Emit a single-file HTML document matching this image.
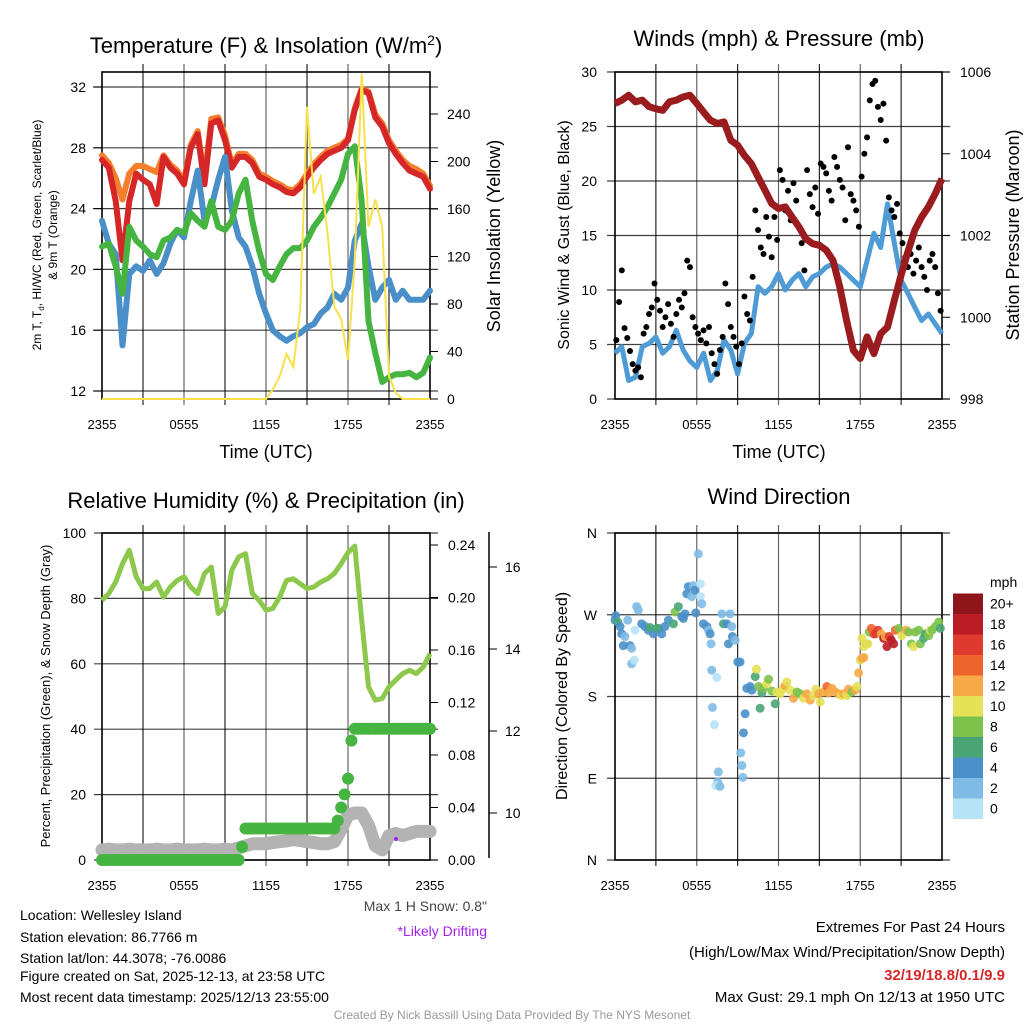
<!DOCTYPE html>
<html><head><meta charset="utf-8"><style>
html,body{margin:0;padding:0;background:#fff;}
svg{display:block;font-family:"Liberation Sans",Arial,sans-serif;}
</style></head><body>
<svg id="chart" width="1024" height="1024" viewBox="0 0 1024 1024" xmlns="http://www.w3.org/2000/svg">
<rect width="1024" height="1024" fill="#fff"/>
<g id="p1"></g>
<g id="p2"></g>
<g id="p3"></g>
<g id="p4"></g>
<g id="txt" font-size="14" fill="#000">
<text x="20" y="920">Location: Wellesley Island</text>
<text x="20" y="942">Station elevation: 86.7766 m</text>
<text x="20" y="963">Station lat/lon: 44.3078; -76.0086</text>
<text x="20" y="981">Figure created on Sat, 2025-12-13, at 23:58 UTC</text>
<text x="20" y="1002">Most recent data timestamp: 2025/12/13 23:55:00</text>
<text x="487" y="911" text-anchor="end" fill="#444">Max 1 H Snow: 0.8"</text>
<text x="487" y="936" text-anchor="end" fill="#a020f0">*Likely Drifting</text>
<text x="1005" y="932" text-anchor="end" font-size="15">Extremes For Past 24 Hours</text>
<text x="1005" y="957" text-anchor="end" font-size="15">(High/Low/Max Wind/Precipitation/Snow Depth)</text>
<text x="1005" y="980" text-anchor="end" font-size="15" font-weight="bold" fill="#d62728">32/19/18.8/0.1/9.9</text>
<text x="1005" y="1002" text-anchor="end" font-size="15">Max Gust: 29.1 mph On 12/13 at 1950 UTC</text>
<text x="512" y="1019" text-anchor="middle" font-size="12" fill="#999">Created By Nick Bassill Using Data Provided By The NYS Mesonet</text>
</g>
</svg>
<script>
// ---- data (half-hourly, hours 0..24 from 2355 UTC) ----
const xTicks=["2355","0555","1155","1755","2355"];
const tempTicks=[12,16,20,24,28,32];
const solarTicks=[0,40,80,120,160,200,240];
const windTicks=[0,5,10,15,20,25,30];
const presTicks=[998,1000,1002,1004,1006];
const rhTicks=[0,20,40,60,80,100];
const precipTicks=[0,0.04,0.08,0.12,0.16,0.20,0.24];
const precipLabels=["0.00","0.04","0.08","0.12","0.16","0.20","0.24"];
const snowTicks=[10,12,14,16];
const dirTicks=["N","E","S","W","N"];
const speedLabels=["0","2","4","6","8","10","12","14","16","18","20+"];
const speedColors=["#b7e3f7","#7fbbe4","#4a90c8","#49a674","#7cc24a","#e6e155","#f6a946","#ef642d","#de3a2d","#bb1c25","#8e1519"];

const tRed=[27.2,26.7,24.5,20.6,24.5,26.3,25.9,25.6,24.3,27.4,26.7,26.3,25.6,28.0,28.9,25.6,29.6,29.8,28.5,26.7,27.4,27.4,27.0,26.1,25.9,25.6,25.4,25.1,25.0,25.4,26.1,26.7,27.2,27.6,27.8,28.0,28.5,30.5,31.8,31.6,30.0,29.4,28.3,27.6,27.0,26.5,26.3,26.1,25.3];
const tOrange=[27.5,27.0,26.0,24.6,26.3,26.8,26.8,26.6,26.4,27.5,26.9,26.5,25.8,28.2,29.1,26.0,29.9,30.0,28.8,26.9,27.6,27.6,27.2,26.3,26.1,25.8,25.6,25.3,25.2,25.6,26.3,26.9,27.4,27.8,28.0,28.2,28.6,30.6,31.9,31.7,30.2,29.6,28.5,27.8,27.2,26.8,26.6,26.3,25.5];
const tDew=[21.5,21.7,20.2,18.4,22.8,21.9,21.5,21.0,20.8,21.9,22.1,22.6,22.4,23.7,23.2,22.8,24.5,22.8,22.6,23.2,25.0,25.9,23.2,21.2,19.7,19.3,20.2,21.0,21.4,21.4,21.9,22.8,23.4,24.1,25.0,25.9,27.6,28.1,24.5,16.6,14.5,12.6,12.9,13.1,13.1,13.2,12.9,13.2,14.2];
const tChill=[23.2,21.7,21.0,15.0,19.7,20.2,19.9,20.6,19.7,20.4,21.7,22.6,22.1,24.5,26.5,23.2,24.1,25.9,27.4,23.9,22.1,21.5,20.2,18.4,17.1,16.0,15.6,15.3,15.6,15.8,16.2,16.4,17.1,17.5,18.4,18.0,18.8,21.9,23.0,20.2,18.0,18.8,19.3,18.0,18.6,18.0,18.0,18.0,18.6];
const solar=[0,0,0,0,0,0,0,0,0,0,0,0,0,0,0,0,0,0,0,0,0,0,0,0,0,8,19,38,27,75,246,173,187,140,78,67,33,117,274,145,168,145,19,5,0,0,0,0,0];

const windSpd=[4.2,4.8,1.7,2.0,4.8,5.1,5.7,4.2,4.8,6.3,4.5,3.5,2.9,4.2,1.7,2.6,5.4,4.5,2.3,5.1,6.0,10.3,9.7,10.3,11.5,10.0,10.9,11.5,10.3,11.2,11.5,12.1,12.4,12.1,11.5,10.9,10.3,12.7,15.2,13.9,17.9,14.3,10.9,9.7,8.4,7.2,7.8,6.9,6.0];
const pressure=[1005.23,1005.31,1005.43,1005.27,1005.31,1005.15,1005.10,1005.06,1005.27,1005.31,1005.39,1005.43,1005.23,1005.02,1004.82,1004.74,1004.78,1004.33,1004.21,1003.96,1003.76,1003.43,1003.11,1002.78,1002.66,1002.70,1002.45,1002.21,1001.92,1001.80,1001.76,1001.64,1001.39,1000.74,999.92,999.19,998.99,999.52,999.11,999.60,999.76,1000.41,1001.03,1001.60,1002.13,1002.45,1002.70,1003.02,1003.39];
// gusts every 0.2 h starting 0.1 h
const gusts=[5.4,8.9,11.8,6.5,5.6, 4.4,3.2,2.6,2.9,2.0, 6.0,6.6,7.8,8.4,10.6, 9.1,8.1,6.6,7.5,8.7, 6.9,5.7,7.8,9.1,8.4, 9.7,12.7,12.1,7.5,6.6, 6.0,5.4,6.3,5.1,6.6, 4.2,3.2,2.3,4.5,5.7, 10.6,8.7,6.6,5.7,4.8, 3.2,5.1,9.4,7.8,7.2, 11.2,17.3,15.5,13.9,13.3, 16.7,14.9,13.0,16.7,14.6, 21.0,20.1,17.3,19.1,16.4, 19.8,18.2,15.8,14.3,11.8, 21.0,18.8,17.6,19.4,17.0, 21.6,21.3,20.7,19.1,18.2, 22.2,21.3,20.1,19.4,16.4, 23.1,18.8,18.2,17.3,15.8, 20.4,22.5,24.0,27.4,28.9, 29.2,26.8,25.6,27.1,23.7, 18.5,17.3,16.7,17.9,15.2, 14.3,13.0,12.1,13.3,11.5, 12.7,13.9,12.1,11.2,10.0, 12.7,13.3,12.1,9.7,8.1];

const rh=[79.4,81.5,85.0,90.6,94.7,86.6,83,83,85,80.4,83.5,85.5,86.6,83.5,81.5,87.6,89.6,75.4,77.4,88.6,92.7,93.7,81.5,79.4,76.4,76.9,80.4,85.5,86,84.5,83,83.5,85,86,87.6,90.6,94,96,73.3,53,48.9,49.4,53,55,57,58,57,59,63.1];
// quarter-hourly precipitation (in)
const precip=[0,0,0,0,0,0,0,0,0,0,0,0,0,0,0,0,0,0,0,0,0,0,0,0,0,0,0,0,0,0,0,0,0,0,0,0,0,0,0,0,0,0.01,0.024,0.024,0.024,0.024,0.024,0.024,0.024,0.024,0.024,0.024,0.024,0.024,0.024,0.024,0.024,0.024,0.024,0.024,0.024,0.024,0.024,0.024,0.024,0.024,0.024,0.024,0.024,0.03,0.04,0.05,0.062,0.091,0.1,0.1,0.1,0.1,0.1,0.1,0.1,0.1,0.1,0.1,0.1,0.1,0.1,0.1,0.1,0.1,0.1,0.1,0.1,0.1,0.1,0.1,0.1];
const snow=[9.1,9.12,9.1,9.1,9.12,9.1,9.1,9.1,9.12,9.1,9.1,9.12,9.1,9.1,9.1,9.12,9.1,9.1,9.12,9.1,9.15,9.2,9.25,9.25,9.25,9.28,9.3,9.32,9.35,9.33,9.3,9.28,9.25,9.25,9.3,9.6,9.95,10.0,10.0,9.7,9.2,9.1,9.45,9.5,9.45,9.5,9.55,9.55,9.55];

const dirHours=[0,0.05,0.2,0.37,0.49,0.73,0.93,1.1,0.61,1.22,1.22,1.42,1.47,1.59,1.71,1.96,2.2,2.45,2.57,2.82,3.06,3.23,3.43,3.67,3.92,4.29,4.41,4.65,4.9,5.02,5.14,5.27,5.39,5.63,5.76,5.88,5.93,6.12,6.27,6.27,6.37,6.49,6.74,6.86,6.98,7.05,7.1,7.47,7.84,7.96,8.2,8.33,8.45,8.57,8.62,8.82,9.01,7.15,7.3,7.59,7.54,7.4,7.71,9.18,9.43,9.55,9.23,9.31,9.38,9.67,9.92,10.04,10.29,10.38,10.53,10.65,10.78,10.9,11.14,11.27,11.51,11.76,11.88,12.12,12.37,12.49,12.61,12.86,13.1,13.35,13.59,13.84,14.08,14.33,14.57,14.74,14.94,15.06,15.31,15.55,15.67,15.92,16.16,16.41,16.61,16.78,17.02,17.14,17.39,17.63,17.76,17.88,18.0,18.12,18.27,18.42,18.12,18.27,18.56,18.66,18.81,18.98,19.1,19.3,19.54,19.72,19.84,19.96,20.13,20.28,20.45,20.57,20.82,21.06,21.36,21.55,21.75,21.92,22.04,22.29,22.41,22.65,22.78,23.02,23.14,23.27,23.51,23.76,23.88,24];
const dirDeg=[264,269,262,257,249,246,264,236,236,233,216,220,253,279,275,260,257,253,256,249,255,255,249,257,264,260,273,279,268,266,271,293,301,290,302,297,272,337,304,290,282,260,257,253,249,238,209,201,271,260,260,238,271,257,246,242,218,168,149,97,86,82,81,218,140,161,118,104,91,189,191,187,202,210,191,167,184,189,194,199,186,172,185,183,189,192,196,187,178,185,183,178,183,176,181,188,183,174,185,191,184,189,185,183,181,183,181,188,185,187,191,206,220,222,223,238,244,235,238,251,255,249,249,253,249,244,246,235,246,242,238,253,255,247,253,251,238,235,251,253,238,244,249,247,253,253,257,262,255];
const dirSpd=[4,4,6,4,4,2,2,4,4,2,2,0,0,2,2,4,4,4,6,4,6,6,4,4,4,6,8,6,4,4,4,4,4,2,2,4,4,2,0,0,2,4,4,2,4,2,2,0,2,6,4,4,2,2,4,2,4,2,0,2,2,0,2,4,4,4,2,2,2,4,4,4,6,10,8,6,6,8,10,8,8,6,10,10,10,12,10,10,12,8,8,10,12,12,10,10,12,10,12,14,12,12,12,12,10,12,10,12,8,12,10,12,10,12,12,8,10,10,10,8,14,14,16,16,12,18,12,18,16,18,18,14,8,10,12,8,8,10,8,8,8,6,6,8,10,8,8,8,6,6];

// ---- helpers ----
const NS="http://www.w3.org/2000/svg";
function mk(parent,tag,attrs,text){const e=document.createElementNS(NS,tag);for(const k in attrs)e.setAttribute(k,attrs[k]);if(text!==undefined)e.textContent=text;parent.appendChild(e);return e;}
function linScale(d0,d1,r0,r1){return v=>r0+(v-d0)/(d1-d0)*(r1-r0);}
function pathFrom(arr,step,xs,ys){return arr.map((v,i)=>(i?"L":"M")+xs(i*step).toFixed(1)+","+ys(v).toFixed(1)).join("");}

function frame(g,L,R,T,B,hgridYs,vgrid){
  for(let i=1;i<8;i++){const x=L+(R-L)*i/8;
    const v=mk(g,"line",{x1:x,x2:x,y1:T-8,y2:B+6,stroke:"#000","stroke-width":1.2,"stroke-opacity":(i%2?0.85:0.6)});
    
    }
  hgridYs.forEach(y=>{const h=mk(g,"line",{x1:L-8,x2:R+8,y1:y,y2:y,stroke:"#000","stroke-width":1.2,"stroke-opacity":0.75});
    
    });
  const b=mk(g,"rect",{x:L,y:T,width:R-L,height:B-T,fill:"none",stroke:"#000","stroke-width":1.6});
  
  
  xTicks.forEach((t,i)=>{const x=L+(R-L)*i/4;
    const e=mk(g,"text",{x:x,y:B+30,"text-anchor":"middle","font-size":13},t);
    
    });
}

// ---- panel 1 ----
(function(){
 const g=document.getElementById('p1');const L=102,R=430,T=72,B=399;
 const xs=linScale(0,24,L,R), ys=linScale(12,32,391,87), ss=linScale(0,240,399,114);
 frame(g,L,R,T,B,tempTicks.map(ys),true);
 tempTicks.forEach(t=>{const e=mk(g,"text",{x:86,y:ys(t)+5,"text-anchor":"end","font-size":14},t);
  
  mk(g,"line",{x1:93,x2:L,y1:ys(t),y2:ys(t),stroke:"#000"});});
 solarTicks.forEach(t=>{const e=mk(g,"text",{x:447,y:ss(t)+5,"font-size":14},t);
  
  mk(g,"line",{x1:R,x2:R+8,y1:ss(t),y2:ss(t),stroke:"#000"});});
 const lines=[[tOrange,"#f47e2b",6,'line-9m-temp'],[tRed,"#d62728",6,'line-2m-temp'],[tChill,"#4a8fc8",6,'line-wind-chill'],[tDew,"#46b440",6,'line-dewpoint']];
 lines.forEach(l=>{const p=mk(g,"path",{d:pathFrom(l[0],0.5,xs,ys),fill:"none",stroke:l[1],"stroke-width":l[2],"stroke-linejoin":"round","stroke-linecap":"round"});
  });
 const sp=mk(g,"path",{d:pathFrom(solar,0.5,xs,ss),fill:"none",stroke:"#f8e04c","stroke-width":2});
 
 let t=mk(g,"text",{x:266,y:53,"text-anchor":"middle","font-size":22});
 t.innerHTML='Temperature (F) &amp; Insolation (W/m<tspan dy="-8" font-size="14">2</tspan><tspan dy="8">)</tspan>';
 
 t=mk(g,"text",{x:266,y:458,"text-anchor":"middle","font-size":18},"Time (UTC)");
 
 t=mk(g,"text",{x:0,y:0,"text-anchor":"middle","font-size":12,transform:"translate(41,235) rotate(-90)"});
 t.innerHTML='2m T, T<tspan font-size="8" dy="3">d</tspan><tspan dy="-3">, HI/WC (Red, Green, Scarlet/Blue)</tspan>';
 
 t=mk(g,"text",{x:0,y:0,"text-anchor":"middle","font-size":12,transform:"translate(57,235) rotate(-90)"},"& 9m T (Orange)");
 
 t=mk(g,"text",{x:0,y:0,"text-anchor":"middle","font-size":18,transform:"translate(500,236) rotate(-90)"},"Solar Insolation (Yellow)");
 
})();

// ---- panel 2 ----
(function(){
 const g=document.getElementById('p2');const L=615,R=942,T=72,B=399;
 const xs=linScale(0,24,L,R), ys=linScale(0,30,B,T), ps=linScale(998,1006,B,T);
 frame(g,L,R,T,B,windTicks.map(ys),true);
 windTicks.forEach(t=>{const e=mk(g,"text",{x:597,y:ys(t)+5,"text-anchor":"end","font-size":14},t);
  });
 presTicks.forEach(t=>{const e=mk(g,"text",{x:960,y:ps(t)+5,"font-size":14},t);
  
  mk(g,"line",{x1:R,x2:R+8,y1:ps(t),y2:ps(t),stroke:"#000"});});
 const wp=mk(g,"path",{d:pathFrom(windSpd,0.5,xs,ys),fill:"none",stroke:"#4f9bd6","stroke-width":5,"stroke-linejoin":"round"});
 
 gusts.forEach((v,i)=>{const c=mk(g,"circle",{cx:xs(0.1+i*0.2),cy:ys(v),r:3,fill:"#000"});
  });
 const pp=mk(g,"path",{d:pathFrom(pressure,0.5,xs,ps),fill:"none",stroke:"#9b1c1f","stroke-width":7,"stroke-linejoin":"round"});
 
 let t=mk(g,"text",{x:779,y:46,"text-anchor":"middle","font-size":22},"Winds (mph) & Pressure (mb)");
 
 t=mk(g,"text",{x:779,y:458,"text-anchor":"middle","font-size":18},"Time (UTC)");
 
 t=mk(g,"text",{x:0,y:0,"text-anchor":"middle","font-size":16,transform:"translate(569,235) rotate(-90)"},"Sonic Wind & Gust (Blue, Black)");
 
 t=mk(g,"text",{x:0,y:0,"text-anchor":"middle","font-size":18,transform:"translate(1019,235) rotate(-90)"},"Station Pressure (Maroon)");
 
})();

// ---- panel 3 ----
(function(){
 const g=document.getElementById('p3');const L=102,R=430,T=533,B=860;
 const xs=linScale(0,24,L,R), ys=linScale(0,100,B,T), qs=linScale(0,0.24,B,545), ns=linScale(10,12,813,731);
 frame(g,L,R,T,B,rhTicks.map(ys),true);
 rhTicks.forEach(t=>{const e=mk(g,"text",{x:86,y:ys(t)+5,"text-anchor":"end","font-size":14},t);
  });
 precipTicks.forEach((t,i)=>{const e=mk(g,"text",{x:448,y:qs(t)+5,"font-size":14},precipLabels[i]);
  
  mk(g,"line",{x1:R,x2:R+8,y1:qs(t),y2:qs(t),stroke:"#000"});});
 mk(g,"line",{x1:489,x2:489,y1:532,y2:858,stroke:"#000","stroke-width":1.5});
 snowTicks.forEach(t=>{const e=mk(g,"text",{x:505,y:ns(t)+5,"font-size":14},t);
  
  mk(g,"line",{x1:489,x2:497,y1:ns(t),y2:ns(t),stroke:"#000"});});
 const sp=mk(g,"path",{d:pathFrom(snow,0.5,xs,ns),fill:"none",stroke:"#b3b3b3","stroke-width":13,"stroke-linejoin":"round","stroke-linecap":"round"});
 
 precip.forEach((v,i)=>{const c=mk(g,"circle",{cx:xs(i*0.25),cy:qs(v),r:6,fill:"#46b440"});
  });
 const rp=mk(g,"path",{d:pathFrom(rh,0.5,xs,ys),fill:"none",stroke:"#8cc84b","stroke-width":5,"stroke-linejoin":"round"});
 
 const pd=mk(g,"circle",{cx:396,cy:839,r:2,fill:"#a020f0"});
 
 let t=mk(g,"text",{x:266,y:508,"text-anchor":"middle","font-size":22},"Relative Humidity (%) & Precipitation (in)");
 
 t=mk(g,"text",{x:0,y:0,"text-anchor":"middle","font-size":13,transform:"translate(50,696) rotate(-90)"},"Percent, Precipitation (Green), & Snow Depth (Gray)");
 
})();

// ---- panel 4 ----
(function(){
 const g=document.getElementById('p4');const L=615,R=942,T=533,B=860;
 const xs=linScale(0,24,L,R), ds=linScale(0,360,B,T);
 frame(g,L,R,T,B,[0,90,180,270,360].map(ds),true);
 dirTicks.forEach((t,i)=>{const e=mk(g,"text",{x:597,y:ds(i*90)+5,"text-anchor":"end","font-size":14},t);
  });
 const n=Math.min(dirHours.length,dirDeg.length,dirSpd.length);
 for(let i=0;i<n;i++){const k=Math.min(10,Math.round(dirSpd[i]/2));
  const c=mk(g,"circle",{cx:xs(dirHours[i]),cy:ds(dirDeg[i]),r:4.5,fill:speedColors[k],"fill-opacity":0.9});
  }
 speedColors.forEach((c,i)=>{const y=819-(i+1)*20.5;
  const r=mk(g,"rect",{x:953,y:y,width:30,height:20.5,fill:c});
  
  const e=mk(g,"text",{x:990,y:y+15,"font-size":14},speedLabels[i]);
  });
 let t=mk(g,"text",{x:990,y:587,"font-size":14},"mph");
 
 t=mk(g,"text",{x:779,y:504,"text-anchor":"middle","font-size":22},"Wind Direction");
 
 t=mk(g,"text",{x:0,y:0,"text-anchor":"middle","font-size":16,transform:"translate(567,696) rotate(-90)"},"Direction (Colored By Speed)");
 
})();
</script>
</body></html>
